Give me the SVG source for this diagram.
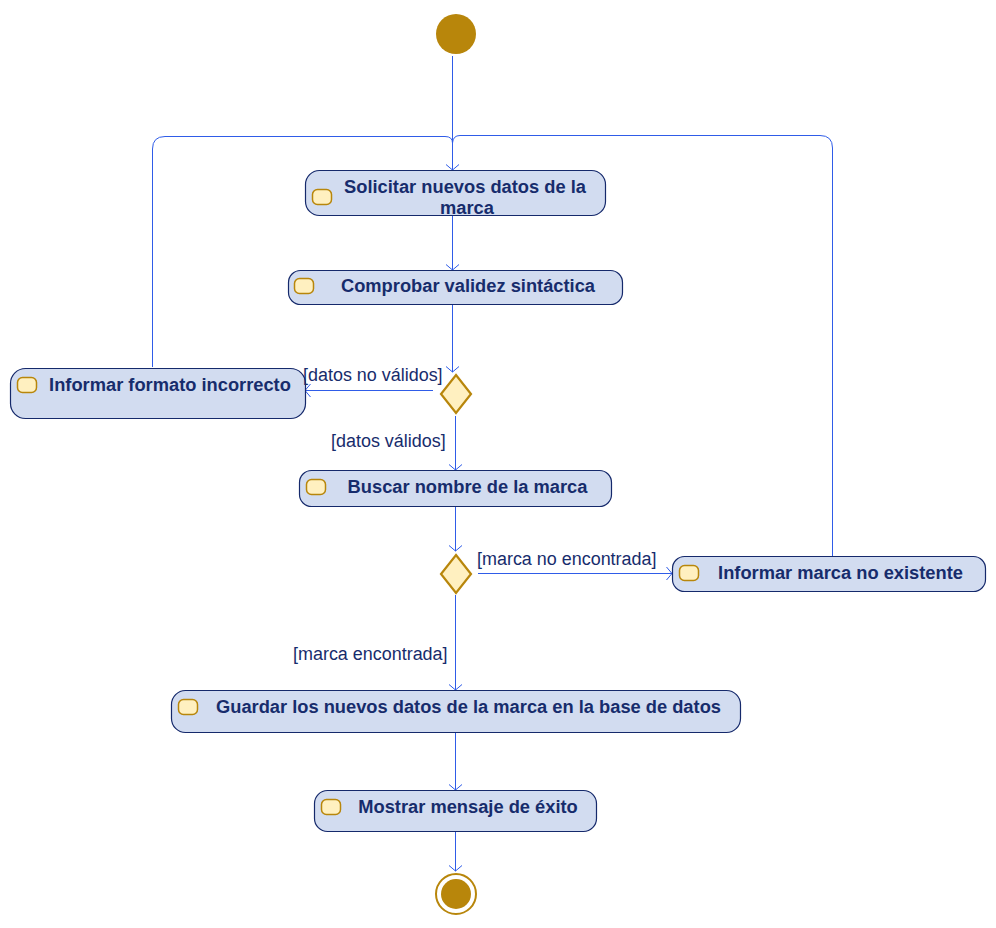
<svg xmlns="http://www.w3.org/2000/svg" width="996" height="928" viewBox="0 0 996 928">
<style>
.a{fill:#d2dcf0;stroke:#15296b;stroke-width:1.2}
.i{fill:#fff0c0;stroke:#b8860b;stroke-width:1.5}
.d{fill:#fff0c0;stroke:#b8860b;stroke-width:2.2}
.t{font:bold 18.3px "Liberation Sans",Arial,sans-serif;fill:#172c6c;text-anchor:middle}
.l{font:17.95px "Liberation Sans",Arial,sans-serif;fill:#172c6c}
.c{fill:none;stroke:#2f5ce8;stroke-width:1}
.g{fill:#b8860b}
</style>
<defs><marker id="ah" markerUnits="userSpaceOnUse" markerWidth="14" markerHeight="14" refX="12" refY="7" orient="auto"><path d="M6.500 .5L12 7L6.500 13.500" fill="none" stroke="#2f5ce8"/></marker></defs>
<rect width="996" height="928" fill="#fff"/>
<g id="connectors">
<path class="c" marker-end="url(#ah)" d="M452.500 56V170"/>
<path class="c" d="M152.500 367V149Q152.500 136.500 165 136.500H445Q452.500 136.500 452.500 143"/>
<path class="c" d="M832.500 556V148Q832.500 135.500 820 135.500H460Q453 135.500 452.500 143"/>
<path class="c" marker-end="url(#ah)" d="M452.500 216V270"/>
<path class="c" marker-end="url(#ah)" d="M452.500 305V372"/>
<path class="c" marker-end="url(#ah)" d="M433 390.500H305"/>
<path class="c" marker-end="url(#ah)" d="M455.500 416V470"/>
<path class="c" marker-end="url(#ah)" d="M455.500 507V551"/>
<path class="c" marker-end="url(#ah)" d="M478 573.500H672"/>
<path class="c" marker-end="url(#ah)" d="M455.500 595V690"/>
<path class="c" marker-end="url(#ah)" d="M455.500 733V790"/>
<path class="c" marker-end="url(#ah)" d="M455.500 832V871"/>
</g>
<g id="start"><circle class="g" cx="456" cy="34" r="20"/></g>
<g id="solicitar"><rect class="a" x="305.500" y="170.500" width="300" height="45" rx="14"/><rect class="i" x="312.500" y="189.500" width="19" height="15" rx="5"/><text class="t" x="465" y="193">Solicitar nuevos datos de la</text><text class="t" x="467" y="214">marca</text></g>
<g id="comprobar"><rect class="a" x="288.500" y="270.500" width="334" height="34" rx="12"/><rect class="i" x="294.500" y="278.500" width="19" height="15" rx="5"/><text class="t" x="468" y="292">Comprobar validez sintáctica</text></g>
<g id="informar-formato"><rect class="a" x="10.500" y="368.500" width="295" height="50" rx="15"/><rect class="i" x="17.500" y="377.500" width="19" height="15" rx="5"/><text class="t" x="170" y="391">Informar formato incorrecto</text></g>
<g id="decision-datos"><path class="d" d="M456 375L471 394L456 413L441 394Z"/></g>
<g id="buscar"><rect class="a" x="299.500" y="470.500" width="312" height="36" rx="12"/><rect class="i" x="306.500" y="479.500" width="19" height="15" rx="5"/><text class="t" x="467.500" y="493">Buscar nombre de la marca</text></g>
<g id="decision-marca"><path class="d" d="M456 555L471 574L456 593L441 574Z"/></g>
<g id="informar-marca"><rect class="a" x="672.500" y="556.500" width="313" height="35" rx="12"/><rect class="i" x="679.500" y="565.500" width="19" height="15" rx="5"/><text class="t" x="840.500" y="579">Informar marca no existente</text></g>
<g id="guardar"><rect class="a" x="171.500" y="690.500" width="569" height="42" rx="14"/><rect class="i" x="178.500" y="699.500" width="19" height="15" rx="5"/><text class="t" x="468.500" y="713">Guardar los nuevos datos de la marca en la base de datos</text></g>
<g id="mostrar"><rect class="a" x="314.500" y="790.500" width="282" height="41" rx="13"/><rect class="i" x="321.500" y="799.500" width="19" height="15" rx="5"/><text class="t" x="468" y="813">Mostrar mensaje de éxito</text></g>
<g id="end"><circle cx="456" cy="894" r="20" fill="#fff" stroke="#b8860b" stroke-width="2"/><circle class="g" cx="456" cy="894" r="15"/></g>
<g id="labels">
<text class="l" x="303" y="381">[datos no válidos]</text>
<text class="l" x="331" y="447">[datos válidos]</text>
<text class="l" x="477" y="565">[marca no encontrada]</text>
<text class="l" x="293" y="660">[marca encontrada]</text>
</g>
</svg>
